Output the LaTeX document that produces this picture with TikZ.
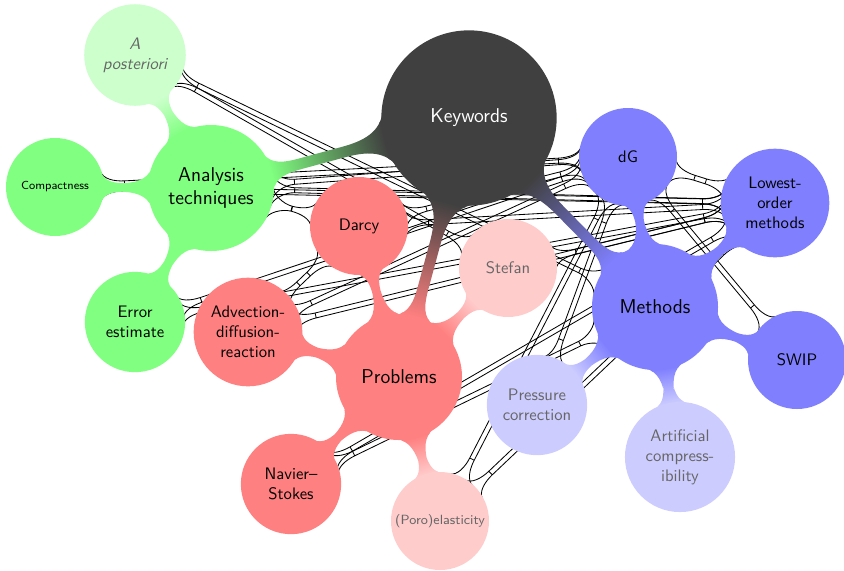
\documentclass[tikz,border=0pt]{standalone}
\usetikzlibrary{mindmap,backgrounds,calc}
\renewcommand{\familydefault}{\sfdefault}
% link geometry (pt): half width, flare length, flare angle, control lengths
\newcommand{\lkw}{1.5}
\newcommand{\lkf}{13}
\newcommand{\lkd}{16}
\newcommand{\lkk}{5}
\newcommand{\lkh}{6}
% \lnk{nodeA}{radiusA}{nodeB}{radiusB}
\newcommand{\lnk}[4]{%
  \pgfmathsetmacro\rA{#2}\pgfmathsetmacro\rB{#4}%
  \pgfmathsetmacro\rAf{#2+\lkf}\pgfmathsetmacro\rBf{#4+\lkf}%
  \draw[xlink] let \p1=(#1.center), \p2=(#3.center), \n1={atan2(\y2-\y1,\x2-\x1)} in
    ($(\p1)+(\n1+\lkd:\rA pt)$)
      .. controls ($(\p1)+(\n1+\lkd:\rA pt)+(\n1+\lkd-90:\lkk pt)$)
      and ($(\p1)+(\n1:\rAf pt)+(\n1+90:\lkw pt)+(\n1+180:\lkh pt)$)
      .. ($(\p1)+(\n1:\rAf pt)+(\n1+90:\lkw pt)$)
    -- ($(\p2)+(\n1+180:\rBf pt)+(\n1+90:\lkw pt)$)
      .. controls ($(\p2)+(\n1+180:\rBf pt)+(\n1+90:\lkw pt)+(\n1:\lkh pt)$)
      and ($(\p2)+(\n1+180-\lkd:\rB pt)+(\n1-90-\lkd:\lkk pt)$)
      .. ($(\p2)+(\n1+180-\lkd:\rB pt)$)
    ($(\p1)+(\n1-\lkd:\rA pt)$)
      .. controls ($(\p1)+(\n1-\lkd:\rA pt)+(\n1-\lkd+90:\lkk pt)$)
      and ($(\p1)+(\n1:\rAf pt)+(\n1-90:\lkw pt)+(\n1+180:\lkh pt)$)
      .. ($(\p1)+(\n1:\rAf pt)+(\n1-90:\lkw pt)$)
    -- ($(\p2)+(\n1+180:\rBf pt)+(\n1-90:\lkw pt)$)
      .. controls ($(\p2)+(\n1+180:\rBf pt)+(\n1-90:\lkw pt)+(\n1:\lkh pt)$)
      and ($(\p2)+(\n1+180+\lkd:\rB pt)+(\n1+90+\lkd:\lkk pt)$)
      .. ($(\p2)+(\n1+180+\lkd:\rB pt)$)
    ($(\p1)+(\n1:\rAf pt)+(\n1+90:\lkw pt)$) -- ($(\p1)+(\n1:\rAf pt)+(\n1-90:\lkw pt)$)
    ($(\p2)+(\n1+180:\rBf pt)+(\n1+90:\lkw pt)$) -- ($(\p2)+(\n1+180:\rBf pt)+(\n1-90:\lkw pt)$);
}
\begin{document}
\begin{tikzpicture}[x=0.6pt,y=-0.6pt,mindmap,
  cbase/.style={concept,align=center,inner sep=0pt,text=black},
  c0/.style={cbase,concept color=black!75,text=white,minimum size=104pt,text width=90pt,font=\sffamily\large},
  c1/.style={cbase,minimum size=74.4pt,text width=66pt,font=\sffamily\large},
  c2/.style={cbase,minimum size=57.6pt,text width=56pt,font=\sffamily},
  light/.style={text=black!60},
  xlink/.style={draw=black,line width=0.5pt,line join=round}
]
\useasboundingbox (0,0) rectangle (844,570);
% root
\node[c0] (kw) at (469,118) {Keywords};
% level 1
\node[c1,concept color=green!50] (an) at (211,188) {Analysis\\techniques};
\node[c1,concept color=red!50] (pr) at (399,377) {Problems};
\node[c1,concept color=blue!50] (me) at (655,307) {Methods};
% analysis
\node[c2,concept color=green!20,light] (ap) at (135,55) {\itshape A\\\itshape posteriori};
\node[c2,concept color=green!50,font=\sffamily\scriptsize] (cp) at (55,187) {Compactness};
\node[c2,concept color=green!50] (ee) at (135,322) {Error\\estimate};
% problems
\node[c2,concept color=red!50] (dc) at (359,226) {Darcy};
\node[c2,concept color=red!20,light] (st) at (508,268) {Stefan};
\node[c2,concept color=red!50] (ad) at (248,332) {Advection-\\diffusion-\\reaction};
\node[c2,concept color=red!50] (ns) at (291,484) {Navier--\\Stokes};
\node[c2,concept color=red!20,light,font=\sffamily\footnotesize] (po) at (440,521) {(Poro)elasticity};
% methods
\node[c2,concept color=blue!50] (dg) at (628,157) {dG};
\node[c2,concept color=blue!50,minimum size=61pt] (lo) at (775,203) {Lowest-\\order\\methods};
\node[c2,concept color=blue!50] (sw) at (797,360) {SWIP};
\node[c2,concept color=blue!20,light] (pc) at (537,405) {Pressure\\correction};
\node[c2,concept color=blue!20,light,minimum size=62pt] (ac) at (680,457) {Artificial\\compress-\\ibility};

\begin{pgfonlayer}{background}
  % cross links
  \lnk{ap}{28.8}{st}{28.8}
  \lnk{ap}{28.8}{me}{37.2}
  \lnk{cp}{28.8}{dg}{28.8}
  \lnk{cp}{28.8}{lo}{30.5}
  \lnk{an}{37.2}{dg}{28.8}
  \lnk{an}{37.2}{lo}{30.5}
  \lnk{an}{37.2}{dc}{28.8}
  \lnk{ee}{28.8}{dg}{28.8}
  \lnk{ee}{28.8}{lo}{30.5}
  \lnk{ad}{28.8}{dc}{28.8}
  \lnk{ad}{28.8}{dg}{28.8}
  \lnk{ad}{28.8}{lo}{30.5}
  \lnk{dc}{28.8}{dg}{28.8}
  \lnk{dc}{28.8}{lo}{30.5}
  \lnk{dg}{28.8}{lo}{30.5}
  \lnk{dg}{28.8}{sw}{28.8}
  \lnk{pc}{28.8}{dg}{28.8}
  \lnk{po}{28.8}{dg}{28.8}
  \lnk{po}{28.8}{lo}{30.5}
  \lnk{ns}{28.8}{lo}{30.5}
  \lnk{ns}{28.8}{me}{37.2}
  \lnk{st}{28.8}{lo}{30.5}
  \lnk{ac}{31}{dg}{28.8}
  % tree connections
  \path (kw) to[circle connection bar switch color=from (black!75) to (green!50)] (an);
  \path (kw) to[circle connection bar switch color=from (black!75) to (red!50)] (pr);
  \path (kw) to[circle connection bar switch color=from (black!75) to (blue!50)] (me);
  \path (an) to[circle connection bar switch color=from (green!50) to (green!20)] (ap);
  \path (an) to[circle connection bar switch color=from (green!50) to (green!50)] (cp);
  \path (an) to[circle connection bar switch color=from (green!50) to (green!50)] (ee);
  \path (pr) to[circle connection bar switch color=from (red!50) to (red!50)] (dc);
  \path (pr) to[circle connection bar switch color=from (red!50) to (red!20)] (st);
  \path (pr) to[circle connection bar switch color=from (red!50) to (red!50)] (ad);
  \path (pr) to[circle connection bar switch color=from (red!50) to (red!50)] (ns);
  \path (pr) to[circle connection bar switch color=from (red!50) to (red!20)] (po);
  \path (me) to[circle connection bar switch color=from (blue!50) to (blue!50)] (dg);
  \path (me) to[circle connection bar switch color=from (blue!50) to (blue!50)] (lo);
  \path (me) to[circle connection bar switch color=from (blue!50) to (blue!50)] (sw);
  \path (me) to[circle connection bar switch color=from (blue!50) to (blue!20)] (pc);
  \path (me) to[circle connection bar switch color=from (blue!50) to (blue!20)] (ac);
\end{pgfonlayer}
\end{tikzpicture}
\end{document}
